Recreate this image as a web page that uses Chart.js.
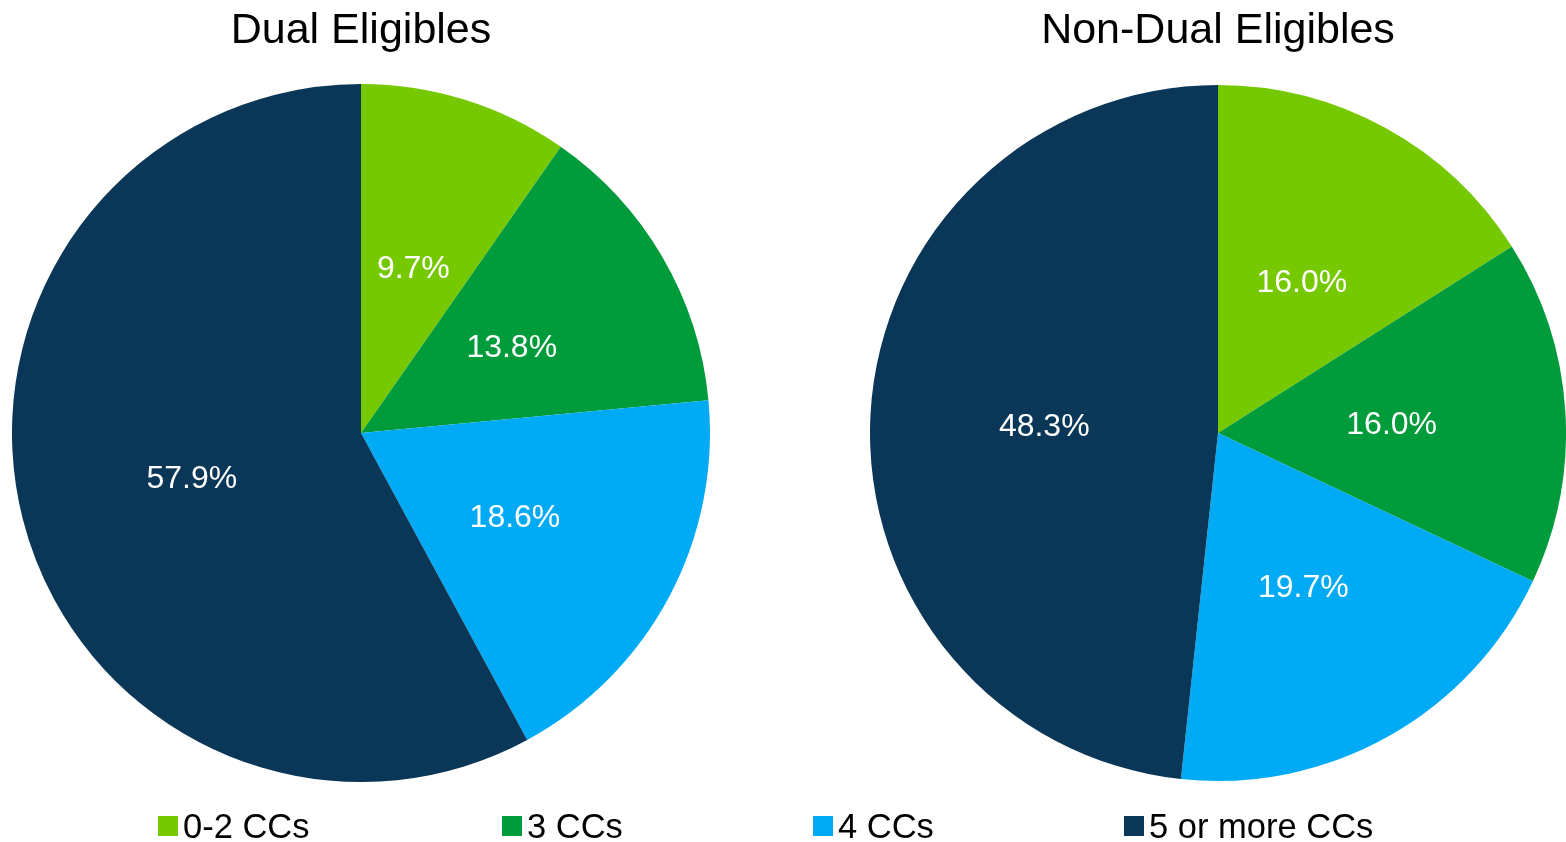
<!DOCTYPE html>
<html>
<head>
<meta charset="utf-8">
<script src="https://cdn.jsdelivr.net/npm/chart.js@4"></script>
<style>
  html, body { margin: 0; padding: 0; background: #fff; overflow: hidden; width: 1566px; height: 842px; }
  body { position: relative; font-family: "Liberation Sans", Arial, sans-serif; }
  .wrap { position: absolute; top: 0; }
  #legend { position: absolute; top: 0; left: 0; width: 1566px; height: 842px; pointer-events: none; }
  .item { position: absolute; top: 806px; height: 40px; display: flex; align-items: center; font-size: 34.5px; color: #000; white-space: nowrap; }
  .box { width: 20px; height: 20px; margin-right: 5px; }
</style>
</head>
<body>
<div class="wrap" style="left:12px;width:698px;height:782px;"><canvas id="c1"></canvas></div>
<div class="wrap" style="left:870px;width:696px;height:782px;"><canvas id="c2"></canvas></div>
<div id="legend"></div>
<script>
const categories = ["0-2 CCs", "3 CCs", "4 CCs", "5 or more CCs"];
const dualValues = [9.7, 13.8, 18.6, 57.9];
const nonDualValues = [16.0, 16.0, 19.7, 48.3];
const chartTitles = ["Dual Eligibles", "Non-Dual Eligibles"];
const colors = ["#76C800", "#009B3A", "#00AAF5", "#0A3657"];
const legendX = [158, 502, 813, 1124];

const sliceLabels = {
  id: "sliceLabels",
  afterDatasetsDraw(chart) {
    const ctx = chart.ctx;
    const ds = chart.data.datasets[0];
    const meta = chart.getDatasetMeta(0);
    ctx.save();
    ctx.fillStyle = "#ffffff";
    ctx.font = '32px "Liberation Sans", Arial, sans-serif';
    ctx.textAlign = "center";
    ctx.textBaseline = "middle";
    meta.data.forEach((arc, i) => {
      const p = arc.tooltipPosition();
      ctx.fillText(ds.data[i].toFixed(1) + "%", p.x, p.y + 3);
    });
    ctx.restore();
  }
};

function makePie(id, title, values) {
  return new Chart(document.getElementById(id), {
    type: "pie",
    data: {
      labels: categories,
      datasets: [{ data: values, backgroundColor: colors, borderWidth: 0, hoverOffset: 0 }]
    },
    options: {
      responsive: true,
      maintainAspectRatio: false,
      animation: false,
      events: [],
      layout: { padding: 0 },
      plugins: {
        legend: { display: false },
        tooltip: { enabled: false },
        title: {
          display: true,
          text: title,
          color: "#000",
          font: { size: 43, family: '"Liberation Sans", Arial, sans-serif', weight: "normal", lineHeight: 1.2 },
          padding: { top: 5, bottom: 27.4 }
        }
      }
    },
    plugins: [sliceLabels]
  });
}

makePie("c1", chartTitles[0], dualValues);
makePie("c2", chartTitles[1], nonDualValues);

const legend = document.getElementById("legend");
categories.forEach((c, i) => {
  const it = document.createElement("div");
  it.className = "item";
  it.style.left = legendX[i] + "px";
  const b = document.createElement("div");
  b.className = "box";
  b.style.background = colors[i];
  const t = document.createElement("span");
  t.textContent = c;
  it.appendChild(b);
  it.appendChild(t);
  legend.appendChild(it);
});
</script>
</body>
</html>
